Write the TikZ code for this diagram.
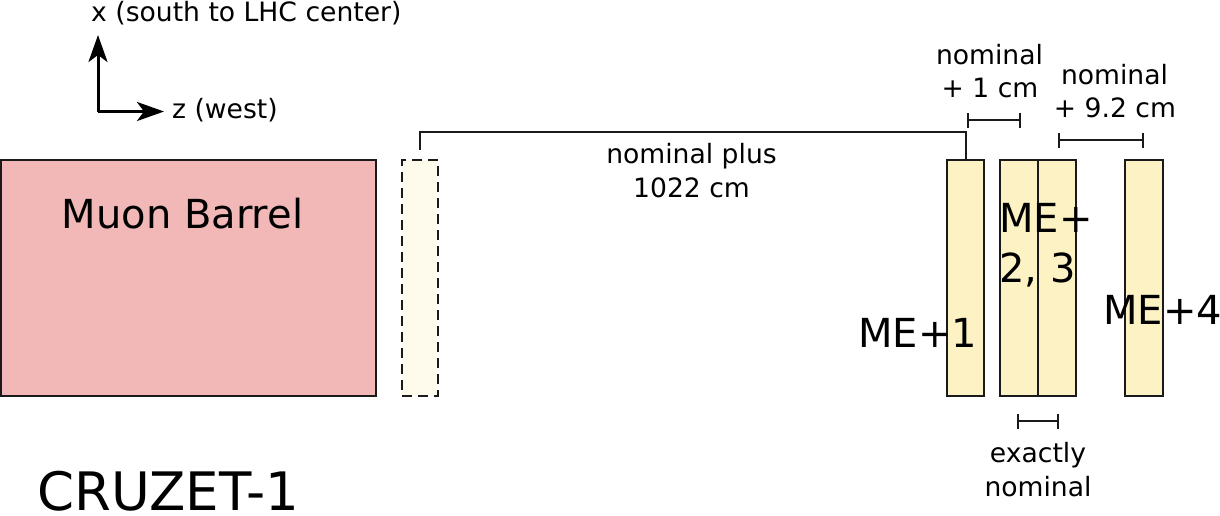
\documentclass[tikz,border=0pt]{standalone}
\usepackage{fontspec}
\setmainfont{DejaVu Sans}
\usetikzlibrary{arrows.meta,calc}
\definecolor{barrelfill}{RGB}{242,184,184}
\definecolor{mefill}{RGB}{252,242,195}
\definecolor{ghostfill}{RGB}{254,251,236}
\definecolor{strokec}{RGB}{26,26,26}
\tikzset{
  chamber/.style={draw=strokec, line width=2pt, fill=mefill, inner sep=0pt, outer sep=0pt, minimum height=236pt},
  smalltxt/.style={font=\fontsize{26.6}{33}\selectfont, anchor=base, inner sep=0pt},
  bigtxt/.style={font=\fontsize{40}{50}\selectfont, anchor=base, inner sep=0pt},
  dimline/.style={draw=strokec, line width=2pt, {Bar[width=15pt]}-{Bar[width=15pt]}},
  axis/.style={draw=black, line width=3pt, -{Stealth[length=27pt, width=19pt, inset=7pt]}},
}
\begin{document}
\begin{tikzpicture}[x=1pt, y=-1pt]
\useasboundingbox (0,0) rectangle (1220,515);
% axes
\coordinate (origin) at (98,111.5);
\coordinate (xtip) at (98,35);
\coordinate (ztip) at (164,111.5);
\draw[axis] (origin) -- (xtip);
\draw[axis] (origin) -- (ztip);
\node[smalltxt, anchor=base west] (xlab) at (91,21) {x (south to LHC center)};
\node[smalltxt, anchor=base west] (zlab) at (172,118.5) {z (west)};
% barrel
\node[draw=strokec, line width=2pt, fill=barrelfill, inner sep=0pt, outer sep=0pt,
      minimum width=375pt, minimum height=236pt] (barrel) at (188.5,278) {};
\node[bigtxt] (barrellab) at (182.5,228) {Muon Barrel};
% ghost chamber
\node[chamber, fill=ghostfill, dash pattern=on 10pt off 6pt, minimum width=36pt] (ghost) at (420,278) {};
% chambers
\node[chamber, minimum width=37pt] (me1) at (965.5,278) {};
\node[chamber, minimum width=38pt] (me2) at (1019,278) {};
\node[chamber, minimum width=38pt] (me3) at (1057,278) {};
\node[chamber, minimum width=38pt] (me4) at (1144,278) {};
\node[bigtxt, anchor=base west] (me1lab) at (858,347) {ME+1};
\node[bigtxt, anchor=base west] (me23laba) at (999,232) {ME+};
\node[bigtxt, anchor=base west] (me23labb) at (999,282) {2, 3};
\node[bigtxt, anchor=base west] (me4lab) at (1103,324) {ME+4};
% bracket
\coordinate (brstart) at ($(ghost.north)+(0,-10)$);
\draw[strokec, line width=2pt] (brstart) -- ++(0,-18.5) -| (me1.north);
\node[smalltxt] (nomplus1) at (691.5,163.5) {nominal plus};
\node[smalltxt] (nomplus2) at (691.5,197.5) {1022 cm};
% dimension: nominal + 1 cm
\coordinate (d1a) at (966.5,120);
\coordinate (d1b) at (1021,120);
\draw[dimline] (d1a) -- (d1b);
\node[smalltxt] (d1t1) at (989.5,64) {nominal};
\node[smalltxt] (d1t2) at (990,97) {+ 1 cm};
% dimension: nominal + 9.2 cm
\coordinate (d2a) at (1058,140);
\coordinate (d2b) at (1144,140);
\draw[dimline] (d2a) -- (d2b);
\node[smalltxt] (d2t1) at (1114.5,84) {nominal};
\node[smalltxt] (d2t2) at (1115,117) {+ 9.2 cm};
% dimension: exactly nominal
\coordinate (d3a) at (1017,421);
\coordinate (d3b) at (1059,421);
\draw[dimline] (d3a) -- (d3b);
\node[smalltxt] (d3t1) at (1038,462) {exactly};
\node[smalltxt] (d3t2) at (1038,496) {nominal};
% title
\node[font=\fontsize{53}{63}\selectfont, anchor=base, inner sep=0pt] (title) at (168.5,510.5) {CRUZET-1};
\end{tikzpicture}
\end{document}
